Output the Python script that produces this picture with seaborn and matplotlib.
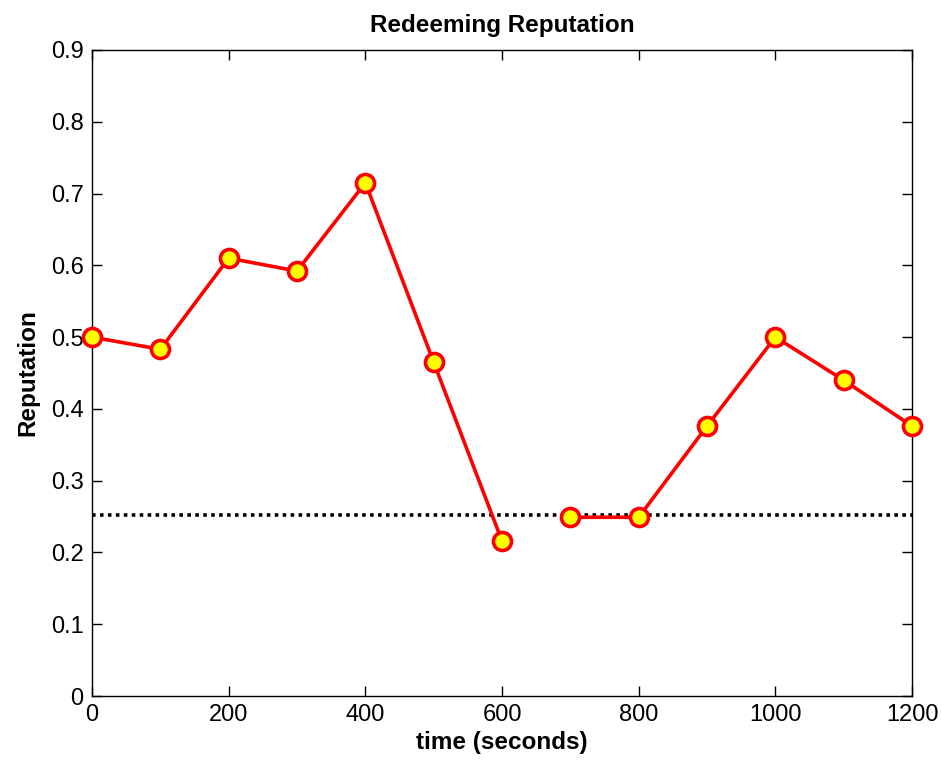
import numpy as np
import pandas as pd
import matplotlib
matplotlib.use("Agg")
import matplotlib.pyplot as plt
import seaborn as sns

# Data
time_s = [0, 100, 200, 300, 400, 500, 600, 700, 800, 900, 1000, 1100, 1200]
reputation = [0.500, 0.483, 0.610, 0.592, 0.715, 0.465, 0.216,
              0.249, 0.249, 0.376, 0.500, 0.440, 0.376]
segment = [0, 0, 0, 0, 0, 0, 0, 1, 1, 1, 1, 1, 1]
threshold = 0.252
x_ticks = [0, 200, 400, 600, 800, 1000, 1200]
y_ticks = [0, 0.1, 0.2, 0.3, 0.4, 0.5, 0.6, 0.7, 0.8, 0.9]

df = pd.DataFrame({"time": time_s, "rep": reputation, "seg": segment})

sns.set_style("white")
plt.rcParams['font.family'] = ['Liberation Sans', 'DejaVu Sans']
plt.rcParams['text.color'] = 'black'
plt.rcParams['axes.labelcolor'] = 'black'
plt.rcParams['xtick.color'] = 'black'
plt.rcParams['ytick.color'] = 'black'

fig = plt.figure(figsize=(9.41, 7.62), dpi=100)
ax = fig.add_axes([0.0978, 0.0866, 0.9692 - 0.0978, 0.9344 - 0.0866])

ax.axhline(threshold, color="black", linestyle=(0, (1, 1.2)), linewidth=2.6, zorder=1)

sns.lineplot(data=df, x="time", y="rep", units="seg", estimator=None,
             color="red", linewidth=2.6, marker="o", markersize=13,
             markerfacecolor="yellow", markeredgecolor="red", markeredgewidth=2.6,
             ax=ax, zorder=3, legend=False)
for ln in ax.lines[1:]:
    ln.set_clip_on(False)

ax.set_xlim(0, 1200)
ax.set_ylim(0, 0.9)
ax.set_xticks(x_ticks)
ax.set_xticklabels([str(v) for v in x_ticks])
ax.set_yticks(y_ticks)
ax.set_yticklabels(["0"] + [f"{v:.1f}" for v in y_ticks[1:]])
ax.tick_params(direction="in", length=7, width=1, labelsize=17, top=True, right=True,
               bottom=True, left=True, pad=6)
for s in ax.spines.values():
    s.set_visible(True)
    s.set_color("black")
    s.set_linewidth(1)

ax.set_title("Redeeming Reputation", fontsize=17.5, fontweight="bold", pad=13)
ax.set_xlabel("time (seconds)", fontsize=17.5, fontweight="bold", labelpad=3)
ax.set_ylabel("Reputation", fontsize=17.5, fontweight="bold", labelpad=8)

fig.savefig("out.png", dpi=100, facecolor="white")
